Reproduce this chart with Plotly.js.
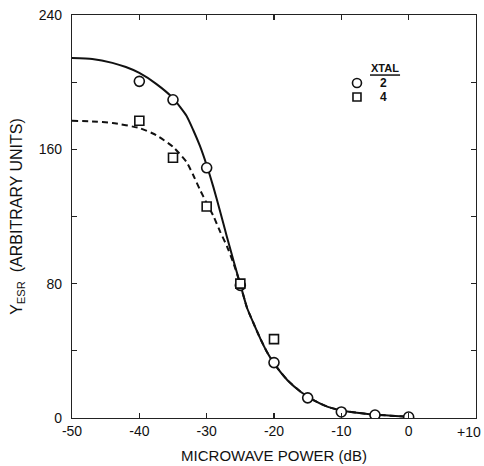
<!DOCTYPE html>
<html>
<head>
<meta charset="utf-8">
<script src="https://cdn.plot.ly/plotly-3.0.1.min.js"></script>
<style>html,body{margin:0;padding:0;background:#fff;}#chart{width:484px;height:466px;}</style>
</head>
<body>
<div id="chart"></div>
<script>
// Measured points
const powerPts = [-40, -35, -30, -25, -20, -15, -10, -5, 0];
const xtal2 = [200.5, 189.5, 149, 79, 33, 12, 3.6, 1.8, 0.6];
const powerPts4 = [-40, -35, -30, -25, -20];
const xtal4 = [177, 155, 126, 80, 47];

// Fitted curves
const curvePower2 = [-50, -47, -44, -42, -40, -37.5, -35, -33, -32, -31, -30, -29, -28, -27, -26, -25, -24, -23, -22, -21, -20, -18, -16, -14, -12, -10, -7, -5, -2, 0];
const curve2 = [214.4, 213.8, 211.5, 209, 205.5, 199, 190.5, 180, 171.5, 162, 150.5, 137.5, 123, 108, 93.5, 79.5, 65.5, 56, 47, 39, 32.5, 22.5, 15.5, 10.3, 6.6, 4.5, 2.8, 2.0, 1.2, 0.8];
const curvePower4 = [-50, -47, -44, -40, -37.5, -35, -33, -32, -31, -30, -29, -28, -27, -26, -25, -24, -23, -22, -21, -20, -18, -16, -14, -12, -10, -7, -5, -2, 0];
const curve4 = [177, 176.6, 175.7, 172.7, 168.5, 161.5, 152.5, 144.7, 136, 128, 120.3, 111, 102.4, 92, 79.5, 65.5, 56, 47, 39, 32.5, 22.5, 15.5, 10.3, 6.6, 4.5, 2.8, 2.0, 1.2, 0.8];

const xTickVals = [-50, -40, -30, -20, -10, 0];
const xTickText = ['-50', '-40', '-30', '-20', '-10', '0'];
const xEdgeTick = {value: 10, label: '+10'};
const yTickVals = [0, 80, 160, 240];
const yTickText = ['0', '80', '160', '240'];
const xtalLabels = ['2', '4'];
const legendTitle = 'XTAL';

const FONT = 'Liberation Sans, Arial, sans-serif';
const INK = '#111';

const traces = [
  {x: curvePower4, y: curve4, mode: 'lines', line: {color: INK, width: 2, dash: '6px,4px', shape: 'spline', smoothing: 0.5}, showlegend: false, hoverinfo: 'skip'},
  {x: curvePower2, y: curve2, mode: 'lines', line: {color: INK, width: 2, shape: 'spline', smoothing: 0.5}, showlegend: false, hoverinfo: 'skip'},
  {x: powerPts, y: xtal2, mode: 'markers', name: xtalLabels[0], showlegend: false, marker: {symbol: 'circle', size: 10, color: '#fff', line: {color: INK, width: 1.6}}},
  {x: powerPts4, y: xtal4, mode: 'markers', name: xtalLabels[1], showlegend: false, marker: {symbol: 'square', size: 9, color: '#fff', line: {color: INK, width: 1.6}}}
];

const axisCommon = {
  showgrid: false, zeroline: false, showline: true, linecolor: '#222', linewidth: 1.2,
  mirror: 'ticks', ticks: 'inside', ticklen: 5, tickwidth: 1.2, tickcolor: '#222',
  tickfont: {family: FONT, size: 14, color: INK}
};

// legend built from annotations + symbol shapes (paper coords)
const legX = 0.7054, legTextX = 0.770;
const legRows = [0.8313, 0.7965];

const layout = {
  width: 484, height: 466,
  margin: {l: 72, r: 8, t: 15, b: 48},
  paper_bgcolor: '#fff', plot_bgcolor: '#fff',
  font: {family: FONT, color: INK},
  showlegend: false,
  xaxis: Object.assign({}, axisCommon, {
    range: [-50, 10], tickvals: xTickVals, ticktext: xTickText,
    title: {text: 'MICROWAVE POWER (dB)', font: {family: FONT, size: 15, color: INK}, standoff: 12}
  }),
  yaxis: Object.assign({}, axisCommon, {
    range: [0, 240], tickvals: yTickVals, ticktext: yTickText, ticklabelstandoff: 6,
    minor: {dtick: 40, ticks: 'inside', ticklen: 5, tickwidth: 1.2, tickcolor: '#222'},
    title: {text: 'Y<sub>ESR</sub>  (ARBITRARY UNITS)', font: {family: FONT, size: 16, color: INK}, standoff: 12}
  }),
  annotations: [
    {x: xEdgeTick.value, xref: 'x', y: 0, yref: 'paper', yanchor: 'top', xanchor: 'right', xshift: 7, yshift: -4,
     text: xEdgeTick.label, showarrow: false, font: {family: FONT, size: 14, color: INK}},
    {x: 0.775, xref: 'paper', y: 0.8685, yref: 'paper', xanchor: 'center', yanchor: 'middle',
     text: '<b>' + legendTitle + '</b>', showarrow: false, font: {family: FONT, size: 11, color: INK}},
    {x: legTextX, xref: 'paper', y: legRows[0], yref: 'paper', xanchor: 'center', yanchor: 'middle',
     text: '<b>' + xtalLabels[0] + '</b>', showarrow: false, font: {family: FONT, size: 12, color: INK}},
    {x: legTextX, xref: 'paper', y: legRows[1], yref: 'paper', xanchor: 'center', yanchor: 'middle',
     text: '<b>' + xtalLabels[1] + '</b>', showarrow: false, font: {family: FONT, size: 12, color: INK}}
  ],
  shapes: [
    {type: 'line', xref: 'paper', yref: 'paper', x0: 0.7376, x1: 0.812, y0: 0.851, y1: 0.851, line: {color: INK, width: 1.5}},
    {type: 'circle', xref: 'paper', yref: 'paper', xsizemode: 'pixel', ysizemode: 'pixel',
     xanchor: legX, yanchor: legRows[0], x0: -4.5, x1: 4.5, y0: -4.5, y1: 4.5, line: {color: INK, width: 1.6}, fillcolor: '#fff'},
    {type: 'rect', xref: 'paper', yref: 'paper', xsizemode: 'pixel', ysizemode: 'pixel',
     xanchor: legX, yanchor: legRows[1], x0: -4, x1: 4, y0: -4, y1: 4, line: {color: INK, width: 1.6}, fillcolor: '#fff'}
  ]
};

Plotly.newPlot('chart', traces, layout, {displayModeBar: false, staticPlot: true});
</script>
</body>
</html>
